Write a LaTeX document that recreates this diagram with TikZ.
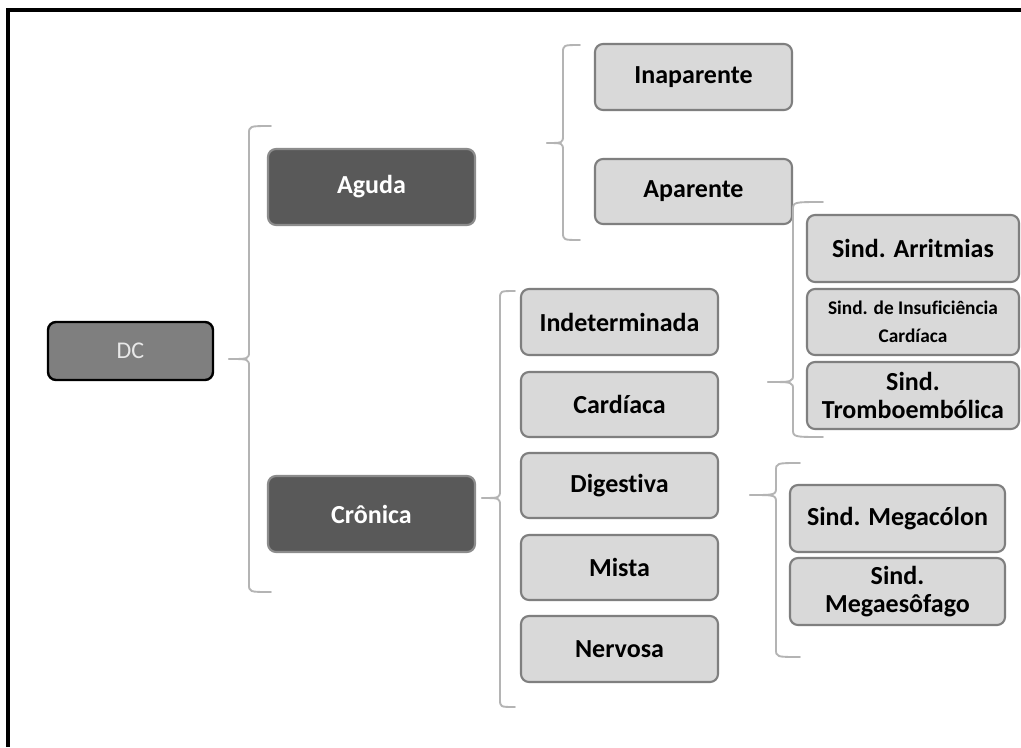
\documentclass[tikz,border=0pt]{standalone}
\usepackage{fontspec}
\setmainfont{Carlito}[Ligatures={NoCommon,NoDiscretionary,NoRare}]
\tikzset{
  x=0.75pt, y=-0.75pt,
  base/.style={rounded corners=6pt, inner sep=0pt, outer sep=0pt, align=center, font=\bfseries\fontsize{19.5}{21}\selectfont},
  light/.style={base, fill=boxlight, draw=boxedge, line width=1.6pt, text=black},
  dark/.style={base, fill=boxdark, draw=darkedge, line width=1.6pt, text=white},
  root/.style={base, fill=rootfill, draw=black, line width=1.8pt, text=roottext, font=\fontsize{18}{20}\selectfont},
  bracestyle/.style={draw=bracegray, line width=1.4pt, line cap=round, line join=round},
}
\definecolor{boxlight}{HTML}{D9D9D9}
\definecolor{boxedge}{HTML}{7F7F7F}
\definecolor{boxdark}{HTML}{595959}
\definecolor{darkedge}{HTML}{8C8C8C}
\definecolor{rootfill}{HTML}{7F7F7F}
\definecolor{roottext}{HTML}{E8E8E8}
\definecolor{bracegray}{HTML}{B4B4B4}
% name, style, x1, y1, x2, y2, text
\newcommand\mybox[7]{\node[#2, minimum width={(#5-#3)*0.75pt}, minimum height={(#6-#4)*0.75pt}] (#1) at ({(#3+#5)/2},{(#4+#6)/2}) {#7};}
% name, xv, top, bottom, tipx, tipy, hookx
\newcommand\mybrace[7]{%
  \coordinate (#1top) at (#7,#3);
  \coordinate (#1bot) at (#7,#4);
  \coordinate (#1tip) at (#5,#6);
  \draw[bracestyle] (#1top) .. controls (#2,#3) .. (#2,#3+8) -- (#2,#6-8) .. controls (#2,#6) .. (#1tip);
  \draw[bracestyle] (#1tip) .. controls (#2,#6) .. (#2,#6+8) -- (#2,#4-8) .. controls (#2,#4) .. (#1bot);
}
\begin{document}
\begin{tikzpicture}
\useasboundingbox (0,0) rectangle (1021,747);
\fill[white] (0,0) rectangle (1021,747);
% frame
\draw[line width=3pt] (8,747) -- (8,10) -- (1021,10);

\mybox{dc}{root}{48}{322}{213}{380}{DC}
\mybox{aguda}{dark}{268}{149}{475}{225}{Aguda}
\mybox{cronica}{dark}{268}{476}{475}{552}{Crônica}

\mybox{inap}{light}{595}{44}{792}{110}{Inaparente}
\mybox{apar}{light}{595}{159}{792}{224}{Aparente}

\mybox{arrit}{light}{807}{215}{1019}{282}{Sind. Arritmias}
\mybox{insuf}{light}{807}{289}{1019}{355}{\fontsize{14.5}{18.75}\selectfont Sind. de Insuficiência\\\fontsize{14.5}{18.75}\selectfont Cardíaca}
\mybox{trombo}{light}{807}{362}{1019}{429}{Sind.\\Tromboembólica}

\mybox{indet}{light}{521}{289}{718}{355}{Indeterminada}
\mybox{card}{light}{521}{372}{718}{437}{Cardíaca}
\mybox{dig}{light}{521}{453}{718}{518}{Digestiva}
\mybox{mista}{light}{521}{535}{718}{600}{Mista}
\mybox{nerv}{light}{521}{616}{718}{682}{Nervosa}

\mybox{megac}{light}{790}{485}{1005}{552}{Sind. Megacólon}
\mybox{megae}{light}{790}{558}{1005}{625}{Sind.\\Megaesôfago}

% braces
\mybrace{b1}{249}{126}{592}{229}{359}{271}
\mybrace{b2}{563}{45}{240}{547}{143}{580}
\mybrace{b3}{793}{202}{437}{768}{382}{823}
\mybrace{b4}{500}{291}{707}{482}{498}{515}
\mybrace{b5}{776}{463}{657}{750}{495}{800}
\end{tikzpicture}
\end{document}
